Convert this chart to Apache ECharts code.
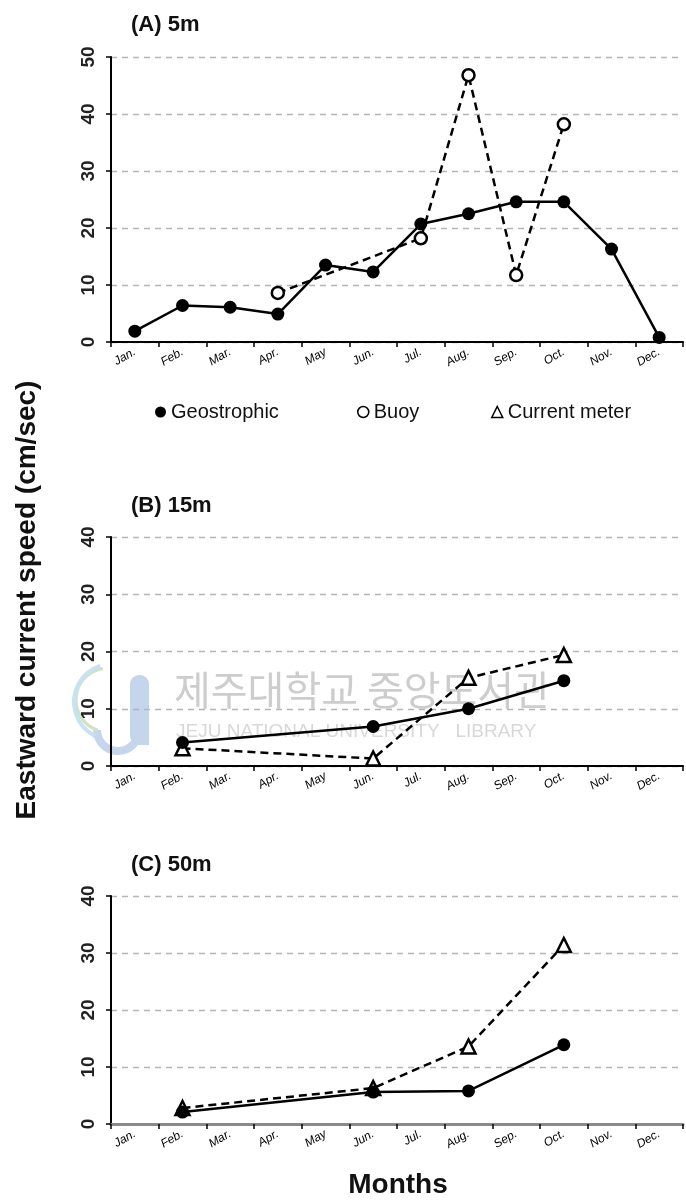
<!DOCTYPE html>
<html>
<head>
<meta charset="utf-8">
<script src="https://cdn.jsdelivr.net/npm/echarts@6/dist/echarts.min.js"></script>
<style>
html,body{margin:0;padding:0;background:#fff;}
#chart{width:686px;height:1203px;}
</style>
</head>
<body>
<div id="chart"></div>
<script>
// ---- data ----
const months = ['Jan.','Feb.','Mar.','Apr.','May','Jun.','Jul.','Aug.','Sep.','Oct.','Nov.','Dec.'];
const panelTitles = ['(A) 5m','(B) 15m','(C) 50m'];
const legendNames = ['Geostrophic','Buoy','Current meter'];
const yTicksA = [0,10,20,30,40,50];
const yTicksBC = [0,10,20,30,40];
// Panel A (5m)
const geoA  = [1.9,6.4,6.1,4.9,13.5,12.3,20.7,22.5,24.6,24.6,16.3,0.8];
const buoyA = [null,null,null,8.6,null,null,18.2,46.8,11.75,38.2,null,null];
// Panel B (15m)
const geoB  = [null,4.1,null,null,null,6.9,null,10.0,null,14.9,null,null];
const cmB   = [null,3.1,null,null,null,1.3,null,15.4,null,19.4,null,null];
// Panel C (50m)
const geoC  = [null,2.1,null,null,null,5.6,null,5.8,null,13.9,null,null];
const cmC   = [null,2.8,null,null,null,6.3,null,13.6,null,31.4,null,null];

const FONT = '"Liberation Sans", Arial, Helvetica, sans-serif';
const chart = echarts.init(document.getElementById('chart'));

const grids = [
  {left:111, right:3, top:57,  height:285},
  {left:111, right:3, top:537, height:229},
  {left:111, right:3, top:896, height:228}
];

function xAxisFor(i, lineColor, lineWidth){
  return {
    type:'category', gridIndex:i, data:months, boundaryGap:true,
    axisLine:{show:true, lineStyle:{color:lineColor, width:lineWidth}},
    axisTick:{show:true, length:5, lineStyle:{color:'#000', width:1.5}},
    axisLabel:{rotate:30, fontSize:12, color:'#000', fontFamily:FONT, fontStyle:'italic', margin:9, interval:0},
    splitLine:{show:false}
  };
}
function yAxisFor(i, ticks){
  return {
    type:'value', gridIndex:i, min:ticks[0], max:ticks[ticks.length-1], interval:10,
    axisLine:{show:true, lineStyle:{color:'#000', width:2}},
    axisTick:{show:true, length:5, lineStyle:{color:'#000', width:1.5}},
    axisLabel:{rotate:90, fontSize:19, fontWeight:'bold', color:'#222', fontFamily:FONT, margin:13},
    splitLine:{show:true, lineStyle:{color:'#b5b5b5', type:[6,5], width:1.3}}
  };
}

const solid = {color:'#000', width:2.5, type:'solid'};
const dashed = {color:'#000', width:2.5, type:[8,5]};

function geoSeries(i, data){
  return {name:'Geostrophic', type:'line', xAxisIndex:i, yAxisIndex:i, data:data,
    connectNulls:true, symbol:'circle', symbolSize:13, z:5,
    lineStyle:solid, itemStyle:{color:'#000'}};
}
function buoySeries(i, data){
  return {name:'Buoy', type:'line', xAxisIndex:i, yAxisIndex:i, data:data,
    connectNulls:true, symbol:'circle', symbolSize:12, z:4,
    lineStyle:dashed, itemStyle:{color:'#fff', borderColor:'#000', borderWidth:2.5}};
}
function cmSeries(i, data){
  return {name:'Current meter', type:'line', xAxisIndex:i, yAxisIndex:i, data:data,
    connectNulls:true, symbol:'triangle', symbolSize:14, z:4,
    lineStyle:dashed, itemStyle:{color:'#fff', borderColor:'#000', borderWidth:2.5}};
}

const legendText = {fontSize:20, color:'#111', fontFamily:FONT};
function legendItem(left, name, icon, style){
  return {left:left, top:397, itemWidth:11, itemHeight:11, itemGap:4,
    textStyle:legendText, selectedMode:false,
    data:[{name:name, icon:icon, itemStyle:style}]};
}

const titleStyle = {fontSize:22, fontWeight:'bold', color:'#111', fontFamily:FONT};

const option = {
  backgroundColor:'#fff',
  animation:false,
  textStyle:{fontFamily:FONT},
  title:[
    {text:panelTitles[0], left:126, top:9, textStyle:titleStyle},
    {text:panelTitles[1], left:126, top:490, textStyle:titleStyle},
    {text:panelTitles[2], left:126, top:849, textStyle:titleStyle}
  ],
  legend:[
    legendItem(150, legendNames[0], 'circle', {color:'#000', borderWidth:0}),
    legendItem(352, legendNames[1], 'circle', {color:'#fff', borderColor:'#000', borderWidth:1.5}),
    legendItem(486, legendNames[2], 'triangle', {color:'#fff', borderColor:'#000', borderWidth:1.5})
  ],
  grid:grids,
  xAxis:[xAxisFor(0,'#000',2), xAxisFor(1,'#000',2), xAxisFor(2,'#8a8a8a',3)],
  yAxis:[yAxisFor(0,yTicksA), yAxisFor(1,yTicksBC), yAxisFor(2,yTicksBC)],
  series:[
    buoySeries(0,buoyA), geoSeries(0,geoA),
    cmSeries(1,cmB), geoSeries(1,geoB),
    cmSeries(2,cmC), geoSeries(2,geoC)
  ],
  graphic:[
    // watermark (library logo + text)
    {type:'rect', silent:true, z:0, shape:{x:130, y:675, width:19, height:70, r:[9,9,0,9]}, style:{fill:'#c5d5ec'}},
    {type:'arc', silent:true, z:0, shape:{cx:118, cy:730, r:21, startAngle:0, endAngle:Math.PI}, style:{stroke:'#c5d5ec', lineWidth:8, fill:null}},
    {type:'arc', silent:true, z:0, shape:{cx:108, cy:700, r:32, startAngle:Math.PI*0.6, endAngle:Math.PI*1.45}, style:{stroke:'#cfe3c4', lineWidth:3, fill:null}},
    {type:'arc', silent:true, z:0, shape:{cx:112, cy:702, r:38, startAngle:Math.PI*0.65, endAngle:Math.PI*1.4}, style:{stroke:'#c9e2f0', lineWidth:4, fill:null}},
    {type:'text', silent:true, z:0, left:174, top:670, style:{text:'제주대학교 중앙도서관', font:'40px "Noto Sans CJK KR"', fill:'#cdcdcd'}},
    {type:'text', silent:true, z:0, left:176, top:722, style:{text:'JEJU NATIONAL UNIVERSITY   LIBRARY', font:'19px "Liberation Sans"', fill:'#d8d8d8'}},
    // y axis title
    {type:'text', x:27, y:600, rotation:Math.PI/2, style:{text:'Eastward current speed (cm/sec)', font:'bold 28px "Liberation Sans", Arial, sans-serif', fill:'#111', align:'center', verticalAlign:'middle'}},
    // x axis title
    {type:'text', x:398, y:1185, style:{text:'Months', font:'bold 28px "Liberation Sans", Arial, sans-serif', fill:'#111', align:'center', verticalAlign:'middle'}}
  ]
};
chart.setOption(option);
</script>
</body>
</html>
